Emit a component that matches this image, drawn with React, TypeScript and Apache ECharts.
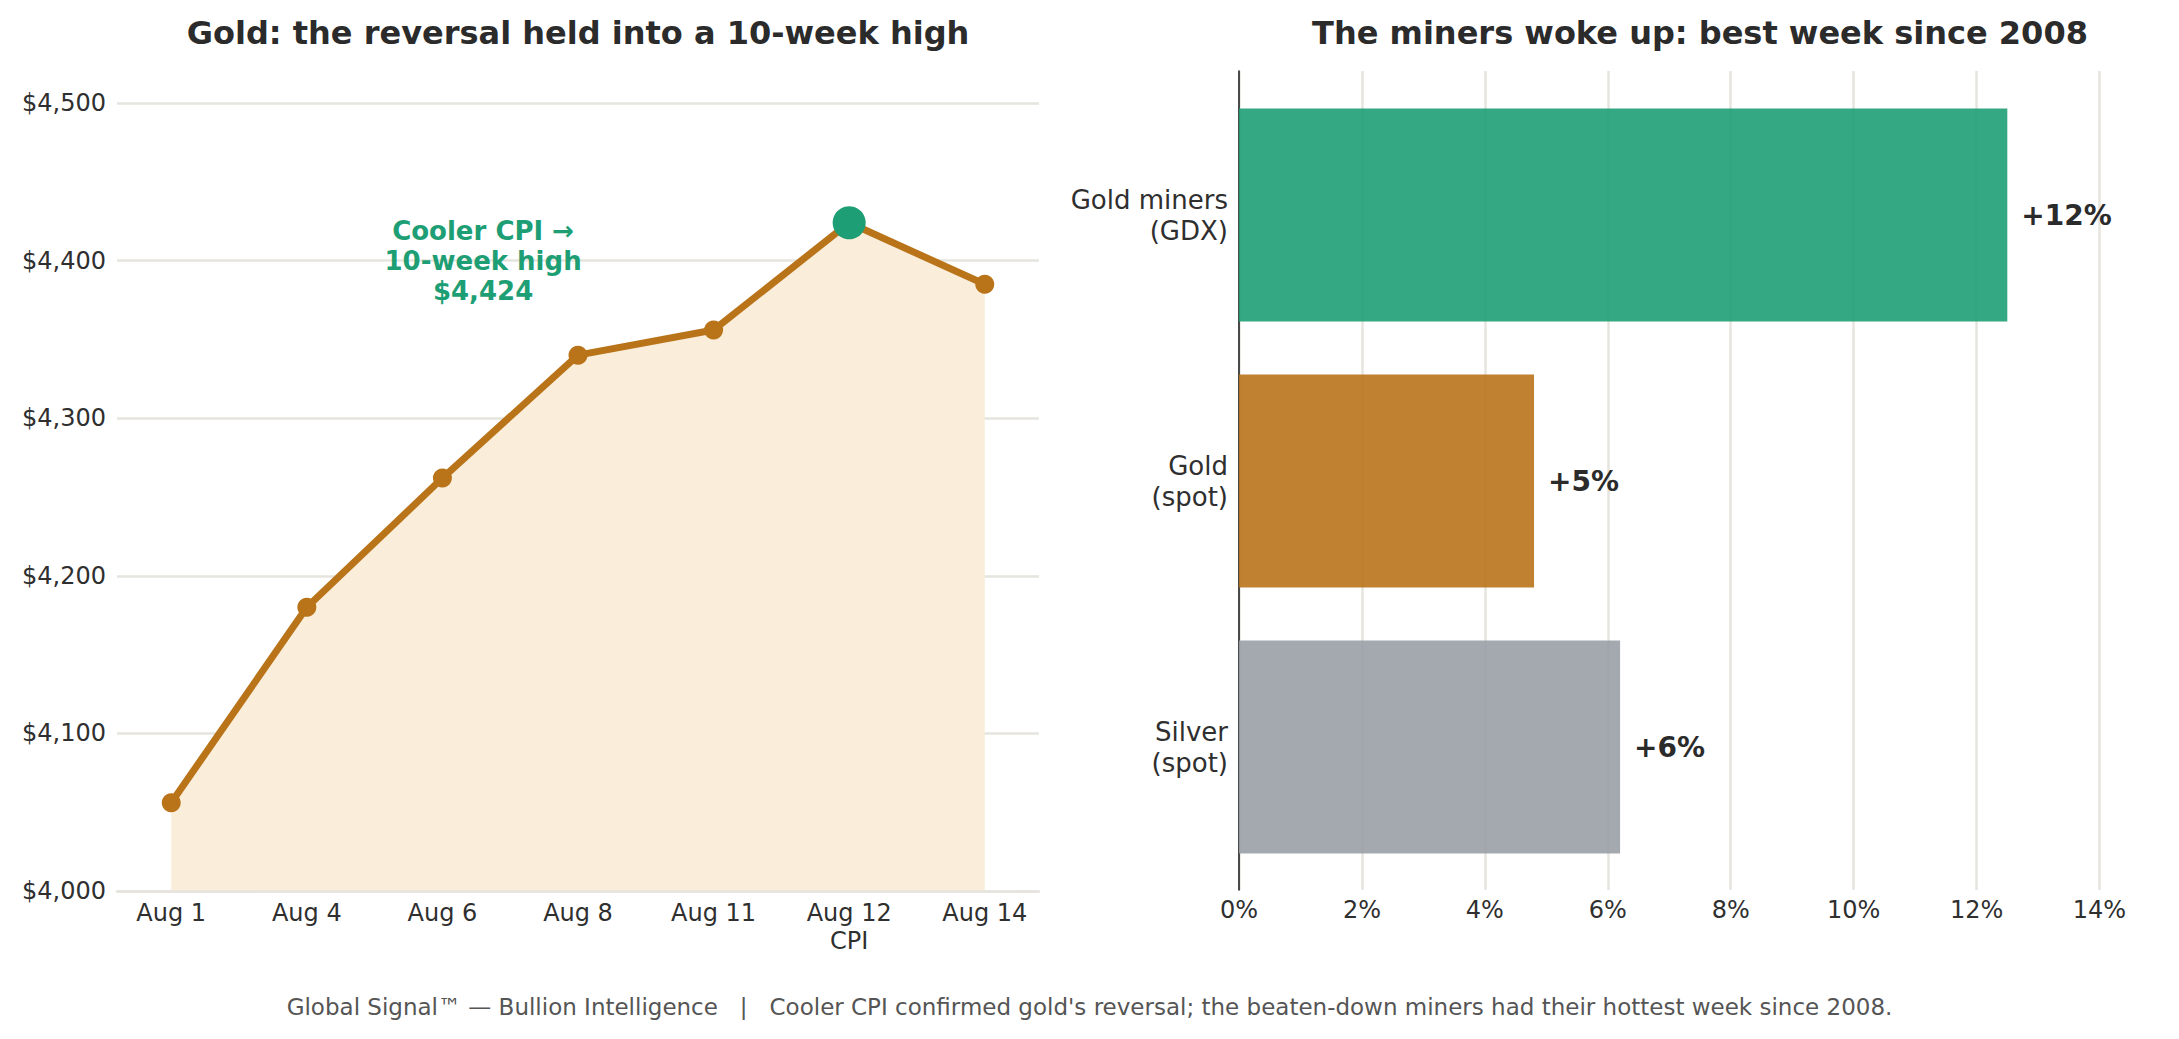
import React, { useEffect, useRef } from "react";
import * as echarts from "echarts";

// ---- data ----
const dates = ["Aug 1", "Aug 4", "Aug 6", "Aug 8", "Aug 11", "Aug 12\nCPI", "Aug 14"];
const goldPrice = [4056, 4180, 4262, 4340, 4356, 4424, 4385];
const peakIndex = 5;
const priceMin = 4000;
const priceMax = 4500;
const priceStep = 100;

const barCategories = ["Gold miners\n(GDX)", "Gold\n(spot)", "Silver\n(spot)"];
const weeklyChange = [12.5, 4.8, 6.2];
const barLabels = ["+12%", "+5%", "+6%"];
const barColors = ["#1E9E74", "#B9741A", "#9A9EA6"];
const pctMin = 0;
const pctMax = 14;
const pctStep = 2;

const leftTitle = "Gold: the reversal held into a 10-week high";
const rightTitle = "The miners woke up: best week since 2008";
const annotationText = "Cooler CPI →\n10-week high\n$4,424";
const footerText =
  "Global Signal™ — Bullion Intelligence   |   Cooler CPI confirmed gold's reversal; the beaten-down miners had their hottest week since 2008.";

const W = 2179;
const H = 1039;
const FONT = "DejaVu Sans";
const GRID = "#E6E4DE";
const TXT = "#2f2f2f";

export default function App() {
  const ref = useRef<HTMLDivElement>(null);
  useEffect(() => {
    document.body.style.margin = "0";
    if (!ref.current) return;
    const chart = echarts.init(ref.current, undefined, { renderer: "svg" });
    const option: any = {
      animation: false,
      backgroundColor: "#ffffff",
      textStyle: { fontFamily: FONT },
      grid: [
        { left: 117, right: W - 1039, top: 103, bottom: H - 891 },
        { left: 1239, right: W - 2099.5, top: 71, bottom: H - 890 },
        { left: 1239, right: W - 2099.5, top: 82, bottom: H - 880 },
      ],
      xAxis: [
        {
          gridIndex: 0,
          type: "value",
          min: -0.4,
          max: 6.4,
          z: 4,
          axisLine: { show: true, lineStyle: { color: GRID, width: 2.5 } },
          axisTick: { show: false },
          splitLine: { show: false },
          axisLabel: {
            customValues: dates.map((_, i) => i),
            formatter: (v: number) => dates[Math.round(v)] ?? "",
            fontSize: 24,
            color: TXT,
            lineHeight: 28,
            margin: 8,
            fontFamily: FONT,
          },
        },
        {
          gridIndex: 1,
          type: "value",
          min: pctMin,
          max: pctMax,
          interval: pctStep,
          axisLine: { show: false },
          axisTick: { show: false },
          splitLine: { show: true, lineStyle: { color: GRID, width: 2.5 } },
          axisLabel: {
            formatter: (v: number) => `${v}%`,
            fontSize: 24,
            color: TXT,
            margin: 8,
            fontFamily: FONT,
          },
        },
        {
          gridIndex: 2,
          type: "value",
          min: pctMin,
          max: pctMax,
          show: false,
        },
      ],
      yAxis: [
        {
          gridIndex: 0,
          type: "value",
          min: priceMin,
          max: priceMax,
          interval: priceStep,
          axisLine: { show: false },
          axisTick: { show: false },
          splitLine: { show: true, lineStyle: { color: GRID, width: 2.5 } },
          axisLabel: {
            formatter: (v: number) => "$" + v.toLocaleString("en-US"),
            fontSize: 24,
            color: TXT,
            margin: 11,
            fontFamily: FONT,
          },
        },
        {
          gridIndex: 1,
          type: "value",
          min: 0,
          max: 1,
          axisLine: { show: true, lineStyle: { color: "#222222", width: 1.6 } },
          axisTick: { show: false },
          axisLabel: { show: false },
          splitLine: { show: false },
        },
        {
          gridIndex: 2,
          type: "category",
          inverse: true,
          data: barCategories,
          axisLine: { show: false },
          axisTick: { show: false },
          splitLine: { show: false },
          axisLabel: {
            fontSize: 26,
            color: TXT,
            lineHeight: 31,
            margin: 11,
            align: "right",
            fontFamily: FONT,
          },
        },
      ],
      series: [
        {
          type: "line",
          xAxisIndex: 0,
          yAxisIndex: 0,
          data: goldPrice.map((v, i) => [i, v]),
          symbol: "circle",
          symbolSize: 19,
          lineStyle: { color: "#B9741A", width: 7 },
          itemStyle: { color: "#B9741A" },
          areaStyle: { color: "#FAEDDA", opacity: 1, origin: "start" },
          z: 3,
        },
        {
          type: "scatter",
          xAxisIndex: 0,
          yAxisIndex: 0,
          data: [[peakIndex, goldPrice[peakIndex]]],
          symbol: "circle",
          symbolSize: 33,
          itemStyle: { color: "#1E9E74", opacity: 1 },
          z: 5,
        },
        {
          type: "scatter",
          xAxisIndex: 0,
          yAxisIndex: 0,
          data: [[2.3, 4400]],
          symbolSize: 0,
          silent: true,
          itemStyle: { opacity: 1 },
          label: {
            show: true,
            position: "inside",
            formatter: annotationText,
            color: "#1E9E74",
            opacity: 1,
            fontSize: 26,
            fontWeight: "bold",
            lineHeight: 30,
            align: "center",
            verticalAlign: "middle",
            fontFamily: FONT,
          },
          z: 6,
        },
        {
          type: "bar",
          xAxisIndex: 2,
          yAxisIndex: 2,
          barWidth: "80%",
          data: weeklyChange.map((v, i) => ({
            value: v,
            itemStyle: { color: barColors[i], opacity: 0.9 },
          })),
          label: {
            show: true,
            position: "right",
            distance: 14,
            formatter: (p: any) => barLabels[p.dataIndex],
            fontSize: 28,
            fontWeight: "bold",
            color: "#2b2b2b",
            opacity: 1,
            fontFamily: FONT,
          },
          z: 3,
        },
      ],
      graphic: [
        {
          type: "text",
          x: 578,
          y: 33,
          style: {
            text: leftTitle,
            font: `bold 32px "${FONT}"`,
            fill: "#2b2b2b",
            textAlign: "center",
            textVerticalAlign: "middle",
          },
        },
        {
          type: "text",
          x: 1700,
          y: 33,
          style: {
            text: rightTitle,
            font: `bold 32px "${FONT}"`,
            fill: "#2b2b2b",
            textAlign: "center",
            textVerticalAlign: "middle",
          },
        },
        {
          type: "text",
          x: W / 2,
          y: 1007,
          style: {
            text: footerText,
            font: `23px "${FONT}"`,
            fill: "#555555",
            textAlign: "center",
            textVerticalAlign: "middle",
          },
        },
      ],
    };
    chart.setOption(option);
    return () => chart.dispose();
  }, []);
  return <div ref={ref} style={{ width: W, height: H }} />;
}
